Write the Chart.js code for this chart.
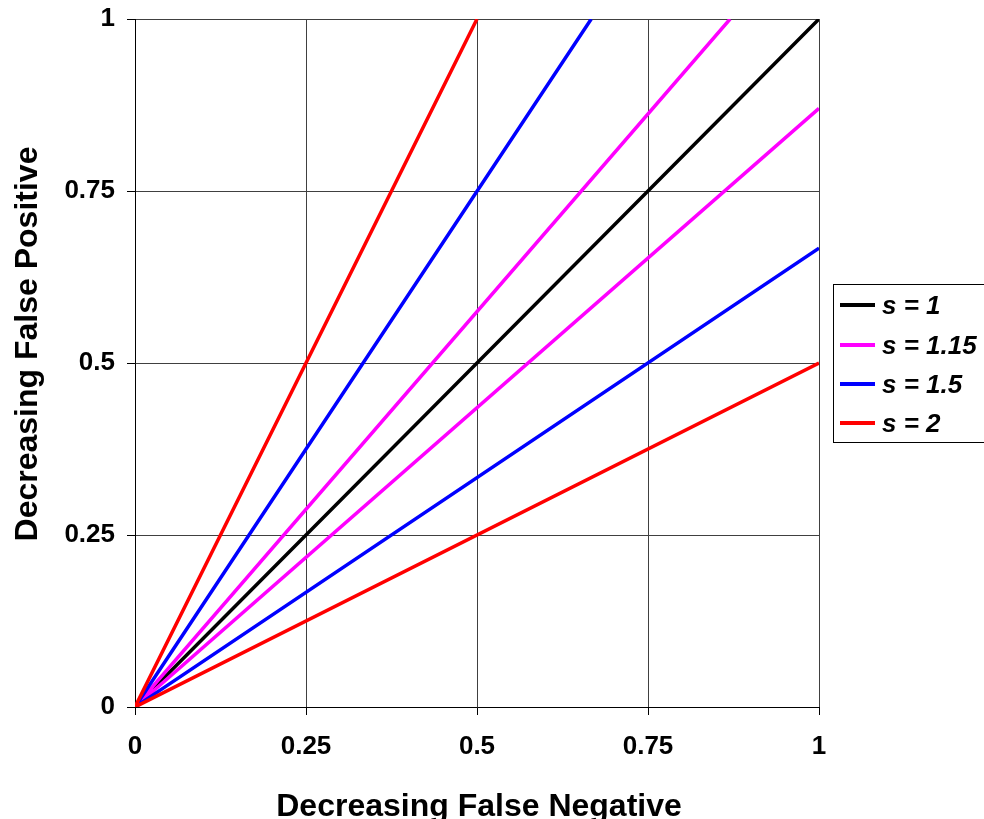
<!DOCTYPE html>
<html>
<head>
<meta charset="utf-8">
<script src="https://cdn.jsdelivr.net/npm/chart.js@4/dist/chart.umd.min.js"></script>
<style>
  html, body { margin: 0; padding: 0; background: #ffffff; }
  #wrap { width: 984px; height: 819px; position: relative; }
</style>
</head>
<body>
<div id="wrap"><canvas id="c" width="984" height="819"></canvas></div>
<script>
// ---- Data ----
const seriesLabels = ['s = 1', 's = 1.15', 's = 1.5', 's = 2'];
const seriesColors = ['#000000', '#ff00ff', '#0000ff', '#ff0000'];
// each series is a polyline: upper end -> origin -> lower end
const s1X   = [1, 0, 1];
const s1Y   = [1, 0, 1];
const s115X = [0.87, 0, 1];
const s115Y = [1, 0, 0.87];
const s15X  = [0.667, 0, 1];
const s15Y  = [1, 0, 0.667];
const s2X   = [0.5, 0, 1];
const s2Y   = [1, 0, 0.5];
const tickValues = [0, 0.25, 0.5, 0.75, 1];
const tickLabels = ['0', '0.25', '0.5', '0.75', '1'];
const xTitle = 'Decreasing False Negative';
const yTitle = 'Decreasing False Positive';

const seriesX = [s1X, s115X, s15X, s2X];
const seriesY = [s1Y, s115Y, s15Y, s2Y];

const FONT = '"Liberation Sans", Arial, Helvetica, sans-serif';

const datasets = seriesLabels.map((lab, i) => ({
  label: lab,
  data: seriesX[i].map((x, j) => ({ x: x, y: seriesY[i][j] })),
  borderColor: seriesColors[i],
  backgroundColor: seriesColors[i],
  borderWidth: 3.5,
  showLine: true,
  pointRadius: 0,
  pointHoverRadius: 0,
  tension: 0,
  order: seriesLabels.length - i
}));

function tickLabel(v) {
  const k = tickValues.findIndex(t => Math.abs(t - v) < 1e-9);
  return k >= 0 ? tickLabels[k] : '';
}

const overlay = {
  id: 'overlay',
  afterDraw(chart) {
    const ctx = chart.ctx;
    ctx.save();
    // axis titles
    ctx.fillStyle = '#000';
    ctx.font = 'bold 32px ' + FONT;
    ctx.textAlign = 'center';
    ctx.textBaseline = 'alphabetic';
    const ca = chart.chartArea;
    ctx.fillText(xTitle, (ca.left + ca.right) / 2 + 2, 816);
    ctx.save();
    ctx.translate(37, 344);
    ctx.rotate(-Math.PI / 2);
    ctx.fillText(yTitle, 0, 0);
    ctx.restore();

    // legend box
    ctx.strokeStyle = '#000';
    ctx.lineWidth = 1;
    ctx.strokeRect(833.5, 284.5, 170, 158);
    const rows = [305, 345, 384, 423];
    ctx.font = 'bold italic 26px ' + FONT;
    ctx.textAlign = 'left';
    ctx.textBaseline = 'middle';
    seriesLabels.forEach((lab, i) => {
      ctx.strokeStyle = seriesColors[i];
      ctx.lineWidth = 4;
      ctx.beginPath();
      ctx.moveTo(840, rows[i]);
      ctx.lineTo(875, rows[i]);
      ctx.stroke();
      ctx.fillStyle = '#000';
      ctx.fillText(lab, 882, rows[i] + 2);
    });
    ctx.restore();
  }
};

new Chart(document.getElementById('c'), {
  type: 'scatter',
  data: { datasets: datasets },
  options: {
    responsive: false,
    animation: false,
    layout: { padding: { left: 0, right: 165, top: 19, bottom: 0 } },
    plugins: {
      legend: { display: false },
      tooltip: { enabled: false },
      title: { display: false }
    },
    scales: {
      x: {
        type: 'linear',
        min: 0, max: 1,
        afterFit(s) { s.height = 112; s.paddingLeft = 0; s.paddingRight = 0; },
        afterBuildTicks(s) { s.ticks = tickValues.map(v => ({ value: v })); },
        ticks: {
          callback: tickLabel,
          font: { family: FONT, size: 26, weight: 'bold' },
          color: '#000',
          padding: 16,
          maxRotation: 0,
          autoSkip: false
        },
        grid: { color: '#404040', lineWidth: 1, tickLength: 8, tickColor: '#000' },
        border: { color: '#000', width: 1 },
        title: { display: false }
      },
      y: {
        type: 'linear',
        min: 0, max: 1,
        afterFit(s) { s.width = 135; s.paddingTop = 0; s.paddingBottom = 0; },
        afterBuildTicks(s) { s.ticks = tickValues.map(v => ({ value: v })); },
        ticks: {
          callback: tickLabel,
          font: { family: FONT, size: 26, weight: 'bold' },
          color: '#000',
          padding: 12,
          autoSkip: false
        },
        grid: { color: '#404040', lineWidth: 1, tickLength: 8, tickColor: '#000' },
        border: { color: '#000', width: 1 },
        title: { display: false }
      }
    }
  },
  plugins: [overlay]
});
</script>
</body>
</html>
